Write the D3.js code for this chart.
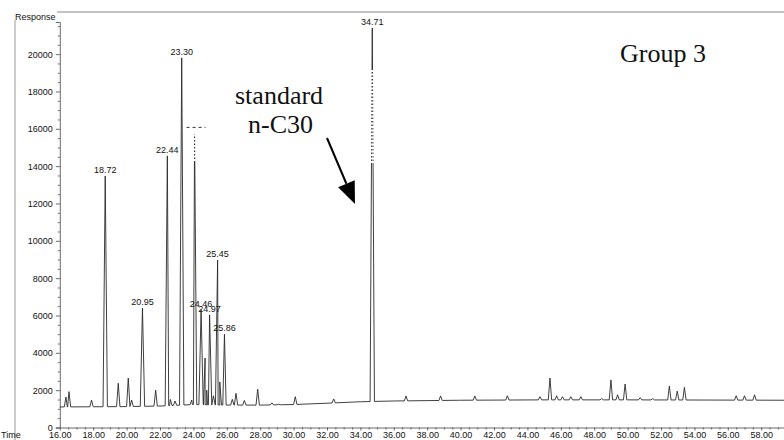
<!DOCTYPE html>
<html>
<head>
<meta charset="utf-8">
<script src="https://cdn.jsdelivr.net/npm/d3@7"></script>
<style>
  body { margin: 0; background: #fff; }
  svg { display: block; }
  .axis text { font-family: "Liberation Sans", Arial, sans-serif; font-size: 9px; fill: #111; }
  .axis path, .axis line { stroke: #444; stroke-width: 0.8; }
  .peak-label { font-family: "Liberation Sans", Arial, sans-serif; font-size: 9px; fill: #111; }
  .note { font-family: "Liberation Serif", "Times New Roman", serif; font-size: 26px; fill: #111; }
</style>
</head>
<body>
<div id="chart"></div>
<script>
// retention time (min) and abundance of each peak
const peakTimes = [16.37, 16.55, 17.90, 18.72, 19.50, 20.10, 20.30, 20.95, 21.74, 22.44,
  22.62, 22.90, 23.30, 23.90, 24.07, 24.46, 24.70, 24.80, 24.97, 25.20,
  25.45, 25.58, 25.86, 26.33, 26.55, 27.05, 27.85, 28.70, 29.10, 30.10,
  32.40, 34.71, 36.73, 38.80, 40.85, 42.80, 44.75, 45.35, 45.75, 46.10,
  46.60, 47.20, 48.45, 49.00, 49.40, 49.85, 50.75, 51.50, 52.50, 52.97,
  53.40, 56.50, 57.00, 57.60];
const peakHeights = [1630, 1920, 1470, 13470, 2370, 2650, 1470, 6400, 2000, 14550,
  1500, 1420, 19800, 1470, 15700, 6300, 3720, 2000, 6030, 1700,
  8970, 2440, 5000, 1510, 1830, 1450, 2050, 1320, 1250, 1650,
  1530, 21400, 1690, 1690, 1690, 1700, 1650, 2650, 1700, 1650,
  1650, 1650, 1550, 2550, 1750, 2330, 1600, 1550, 2220, 1950,
  2150, 1700, 1700, 1750];

// labelled peaks
const labelTexts = ["18.72", "20.95", "22.44", "23.30", "24.46", "24.97", "25.45", "25.86", "34.71"];

// the peak whose label is only a dashed smear in the scan
const smearTime = 24.07;

// parts of peak lines that print as dots in the scan
const dotTimes = [24.07, 34.71];
const dotFrom = [14220, 14170];
const dotTo = [15700, 19150];

// drifting baseline
const baseTimes = [16.0, 18.0, 20.0, 22.0, 24.0, 26.0, 28.0, 30.0, 32.0, 34.0, 36.0, 40.0, 45.0, 50.0, 55.0, 59.4];
const baseValues = [1100, 1110, 1120, 1150, 1230, 1200, 1200, 1230, 1300, 1380, 1420, 1460, 1480, 1480, 1470, 1460];

const xTicks = d3.range(16, 59, 2);
const yTicks = d3.range(0, 20001, 2000);

const width = 784, height = 440;

const x = d3.scaleLinear().domain([16, 59.4]).range([59.8, 784.6]);
const y = d3.scaleLinear().domain([0, 21720]).range([427.5, 22]);
const base = d3.scaleLinear().domain(baseTimes).range(baseValues);

const svg = d3.select("#chart").append("svg")
  .attr("width", width)
  .attr("height", height);

svg.append("rect").attr("width", width).attr("height", height).attr("fill", "#fff");

// frame lines of the printout
svg.append("line")
  .attr("x1", 15).attr("x2", 15).attr("y1", 20).attr("y2", height)
  .attr("stroke", "#999").attr("stroke-width", 1);
svg.append("line")
  .attr("x1", 57).attr("x2", width).attr("y1", 12).attr("y2", 12)
  .attr("stroke", "#888").attr("stroke-width", 1);

// axes
const xAxis = svg.append("g")
  .attr("class", "axis")
  .attr("transform", `translate(0,${y(0)})`)
  .call(d3.axisBottom(x).tickValues(xTicks).tickFormat(d3.format(".2f")).tickSize(3).tickSizeOuter(0).tickPadding(1));

svg.append("g")
  .attr("class", "axis")
  .attr("transform", `translate(0,${y(0)})`)
  .call(d3.axisBottom(x).tickValues(d3.range(16.5, 59.4, 0.5).filter(d => d % 2 !== 0)).tickFormat("").tickSize(2))
  .select(".domain").remove();

svg.append("g")
  .attr("class", "axis")
  .attr("transform", `translate(${x(16)},0)`)
  .call(d3.axisLeft(y).tickValues(yTicks).tickFormat(d3.format("d")).tickSize(4).tickSizeOuter(4).tickPadding(3));

svg.append("g")
  .attr("class", "axis")
  .attr("transform", `translate(${x(16)},0)`)
  .call(d3.axisLeft(y).tickValues(d3.range(500, 21720, 500).filter(d => d % 2000 !== 0)).tickFormat("").tickSize(2))
  .select(".domain").remove();

svg.append("text").attr("class", "peak-label")
  .attr("x", 15).attr("y", 20).text("Response");
svg.append("text").attr("class", "peak-label")
  .attr("x", 1).attr("y", 438).text("Time");

// build chromatogram trace: baseline with a spike per peak
const pts = baseTimes.map((t, i) => [t, baseValues[i]]);
peakTimes.forEach((t, i) => {
  const h = peakHeights[i];
  const w = h > 5000 ? 0.13 : 0.1;
  pts.push([t - w, base(t - w)], [t, h], [t + w, base(t + w)]);
});
pts.sort((a, b) => a[0] - b[0]);

const line = d3.line().x(d => x(d[0])).y(d => y(d[1]));

svg.append("path")
  .datum(pts)
  .attr("d", line)
  .attr("fill", "none")
  .attr("stroke", "#2a2a2a")
  .attr("stroke-width", 0.9)
  .attr("stroke-linejoin", "miter");

// dotted stretches of the scan
svg.selectAll(".dots")
  .data(dotTimes)
  .join("line")
  .attr("x1", d => x(d)).attr("x2", d => x(d))
  .attr("y1", (d, i) => y(dotTo[i]))
  .attr("y2", (d, i) => y(dotFrom[i]))
  .attr("stroke", "#fff")
  .attr("stroke-width", 4)
  .attr("stroke-dasharray", "2,1.5");

// peak labels
svg.selectAll(".lbl")
  .data(labelTexts)
  .join("text")
  .attr("class", "peak-label")
  .attr("text-anchor", "middle")
  .attr("x", d => x(+d))
  .attr("y", d => {
    const i = d3.minIndex(peakTimes, t => Math.abs(t - +d));
    return y(peakHeights[i]) - 3;
  })
  .text(d => d);

// smeared label of the 24.07 peak
const si = peakTimes.indexOf(smearTime);
svg.append("line")
  .attr("x1", x(smearTime) - 8).attr("x2", x(smearTime) + 11)
  .attr("y1", y(peakHeights[si]) - 7).attr("y2", y(peakHeights[si]) - 7)
  .attr("stroke", "#333").attr("stroke-width", 1)
  .attr("stroke-dasharray", "3,3");

// annotations
svg.append("text").attr("class", "note").attr("x", 620).attr("y", 62).text("Group 3");
svg.append("text").attr("class", "note").attr("x", 235).attr("y", 104).text("standard");
svg.append("text").attr("class", "note").attr("x", 248).attr("y", 133).text("n-C30");

const tip = [355, 204], tail = [327, 138];
const dx = tip[0] - tail[0], dy = tip[1] - tail[1];
const len = Math.hypot(dx, dy), ux = dx / len, uy = dy / len;
const hl = 22, hw = 9;
const bx = tip[0] - ux * hl, by = tip[1] - uy * hl;
svg.append("line")
  .attr("x1", tail[0]).attr("y1", tail[1]).attr("x2", bx).attr("y2", by)
  .attr("stroke", "#000").attr("stroke-width", 2);
svg.append("polygon")
  .attr("points", [tip, [bx - uy * hw, by + ux * hw], [bx + uy * hw, by - ux * hw]].map(p => p.join(",")).join(" "))
  .attr("fill", "#000");
</script>
</body>
</html>
